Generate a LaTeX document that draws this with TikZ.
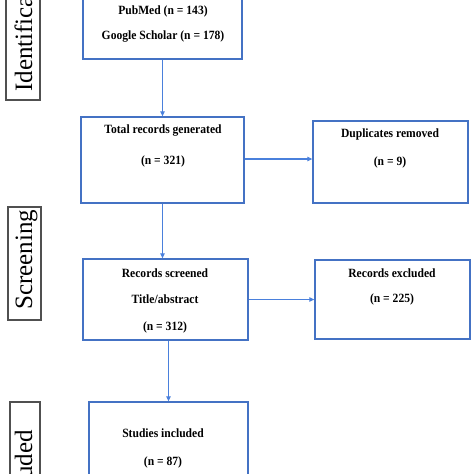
\documentclass[tikz,border=0pt]{standalone}
\usepackage{fontspec}
\setmainfont{Liberation Serif}
\newfontfamily\bodyfont[FakeStretch=0.92]{Liberation Serif}
\usetikzlibrary{arrows.meta}
\definecolor{boxblue}{HTML}{4472C4}
\definecolor{arrblue}{HTML}{4A80DC}
\definecolor{lblgray}{HTML}{505050}
\tikzset{
  box/.style={draw=boxblue, line width=1.3pt, rectangle, inner sep=0pt, fill=white},
  lblbox/.style={draw=lblgray, line width=1.2pt, rectangle, inner sep=0pt, fill=white},
  txt/.style={inner sep=0pt, font=\bodyfont\bfseries\fontsize{12.6}{15}\selectfont},
  stage/.style={inner sep=0pt, rotate=90, font=\fontsize{25}{30}\selectfont},
  arr/.style={draw=arrblue, line width=1.1pt, -{Triangle[length=5pt,width=4.5pt]}}
}
\begin{document}
\begin{tikzpicture}[x=1pt,y=-1pt]
\useasboundingbox (0,0) rectangle (474,474);
\clip (0,0) rectangle (474,474);
\fill[white] (0,0) rectangle (474,474);
% stage labels
\node[lblbox, minimum width=34pt, minimum height=140pt] (lid) at (23,30) {};
\node[stage, anchor=base west] (tid) at (32,92) {Identification};
\node[lblbox, minimum width=33pt, minimum height=113pt] (lsc) at (24.5,263.5) {};
\node[stage, anchor=base west] (tsc) at (32,310) {Screening};
\node[lblbox, minimum width=30pt, minimum height=118pt] (lin) at (25,461) {};
\node[stage, anchor=base east] (tin) at (32,430) {Included};
% boxes
\node[box, minimum width=159pt, minimum height=99pt] (src) at (162.5,9.5) {};
\node[box, minimum width=163pt, minimum height=86pt] (tot) at (162.5,160) {};
\node[box, minimum width=155pt, minimum height=82pt] (dup) at (390.5,162) {};
\node[box, minimum width=165pt, minimum height=81pt] (scr) at (165.5,299.5) {};
\node[box, minimum width=155pt, minimum height=79pt] (exc) at (392.5,299.5) {};
\node[box, minimum width=159pt, minimum height=108pt] (inc) at (168.5,456) {};
% texts
\node[txt] (t1) at (163,11) {PubMed (n = 143)};
\node[txt] (t2) at (163,37) {Google Scholar (n = 178)};
\node[txt] (t3) at (163,131) {Total records generated};
\node[txt] (t4) at (163,161) {(n = 321)};
\node[txt] (t5) at (390,134) {Duplicates removed};
\node[txt] (t6) at (390,162) {(n = 9)};
\node[txt] (t7) at (165,273) {Records screened};
\node[txt] (t8) at (165,299) {Title/abstract};
\node[txt] (t9) at (165,327) {(n = 312)};
\node[txt] (t10) at (392,273) {Records excluded};
\node[txt] (t11) at (392,299) {(n = 225)};
\node[txt] (t12) at (163,433) {Studies included};
\node[txt] (t13) at (163,462) {(n = 87)};
% connectors
\draw[arr] (src.south) -- (tot.north);
\draw[arr] ([yshift=1pt]tot.east) -- ([yshift=1pt]tot.east -| dup.west);
\draw[arr] (tot.south) -- (tot.south |- scr.north);
\draw[arr] (scr.east) -- (exc.west);
\draw[arr] (scr.south -| inc.north) -- (inc.north);
\end{tikzpicture}
\end{document}
